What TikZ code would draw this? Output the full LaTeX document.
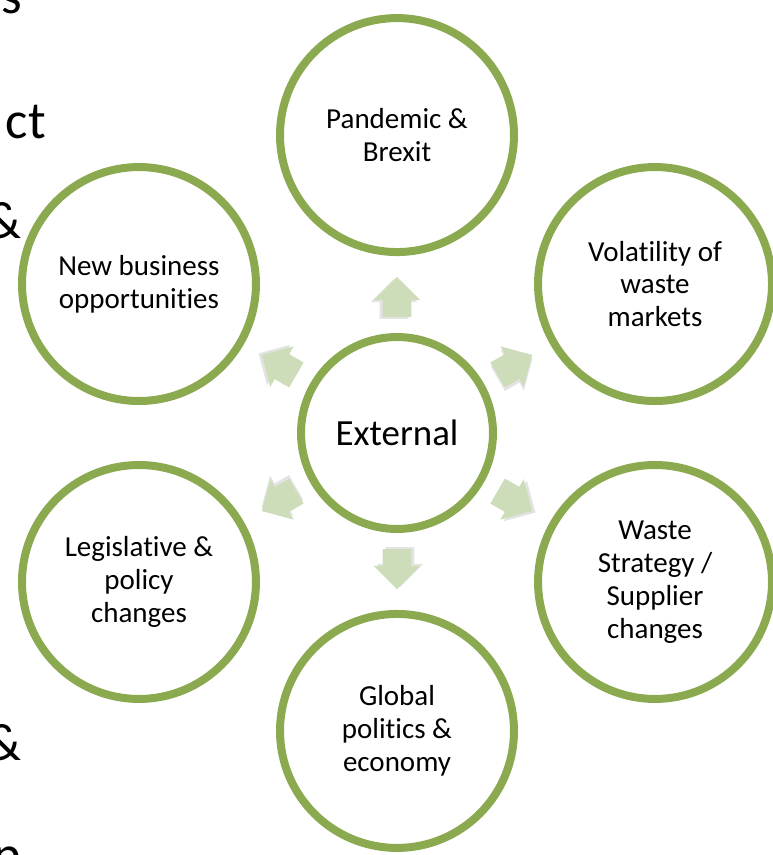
\documentclass[tikz,border=0pt]{standalone}
\usepackage{fontspec}
\setmainfont{Carlito}[Ligatures=NoCommon]
\usetikzlibrary{shapes.arrows,shadows}
\definecolor{ringgreen}{RGB}{139,170,80}
\definecolor{arrowgreen}{RGB}{205,220,185}
\tikzset{%
    topic/.style={%
        circle, draw=ringgreen, line width=0.16cm, fill=white,
        minimum size=4.68cm, inner sep=0pt, align=center,
        font=\fontsize{16.5pt}{18.7pt}\selectfont,
        drop shadow={opacity=0.18, shadow xshift=0.03cm, shadow yshift=-0.06cm}
    },
    hub/.style={%
        topic, minimum size=3.84cm,
        font=\fontsize{21pt}{24pt}\selectfont
    },
    push/.style={%
        single arrow, fill=arrowgreen, draw=none,
        inner xsep=0pt, inner ysep=0.28cm, minimum height=0.8cm,
        single arrow head extend=0.18cm, rotate=#1,
        drop shadow={opacity=0.22, shadow xshift=\sx cm, shadow yshift=\sy cm}
    },
    slidetext/.style={anchor=base east, inner sep=0pt, font=\fontsize{30pt}{36pt}\selectfont}
}
\begin{document}
\begin{tikzpicture}[x=0.02cm,y=-0.02cm]
    \clip (0,0) rectangle (773,855);
    % cut-off text of the slide on the left
    \node[slidetext] (frag1) at (22,14) {s};
    \node[slidetext] (frag2) at (46,138) {ct};
    \node[slidetext] (frag3) at (22,238) {\&};
    \node[slidetext] (frag4) at (22,760) {\&};
    \node[slidetext] (frag5) at (22,872) {p};
    \node[hub] (ext) at (397,433) {External};
    \foreach \a/\name/\txt in {90/pan/{Pandemic \&\\Brexit},
        30/vol/{Volatility of\\waste\\markets},
        -30/wst/{Waste\\Strategy /\\Supplier\\changes},
        -90/glb/{Global\\politics \&\\economy},
        210/leg/{Legislative \&\\policy\\changes},
        150/new/{New business\\opportunities}}
    {
    % shadow offset, turned back into the arrow's own frame
    \pgfmathsetmacro\sx{0.04*cos(\a)-0.06*sin(\a)}
    \pgfmathsetmacro\sy{-0.04*sin(\a)-0.06*cos(\a)}
    \node[topic] (\name) at ([shift={(\a:5.96cm)}]ext.center) {\txt};
    \node[push=\a] (arr-\name) at ([shift={(\a:2.58cm)}]ext.center) {};
    }
\end{tikzpicture}
\end{document}
